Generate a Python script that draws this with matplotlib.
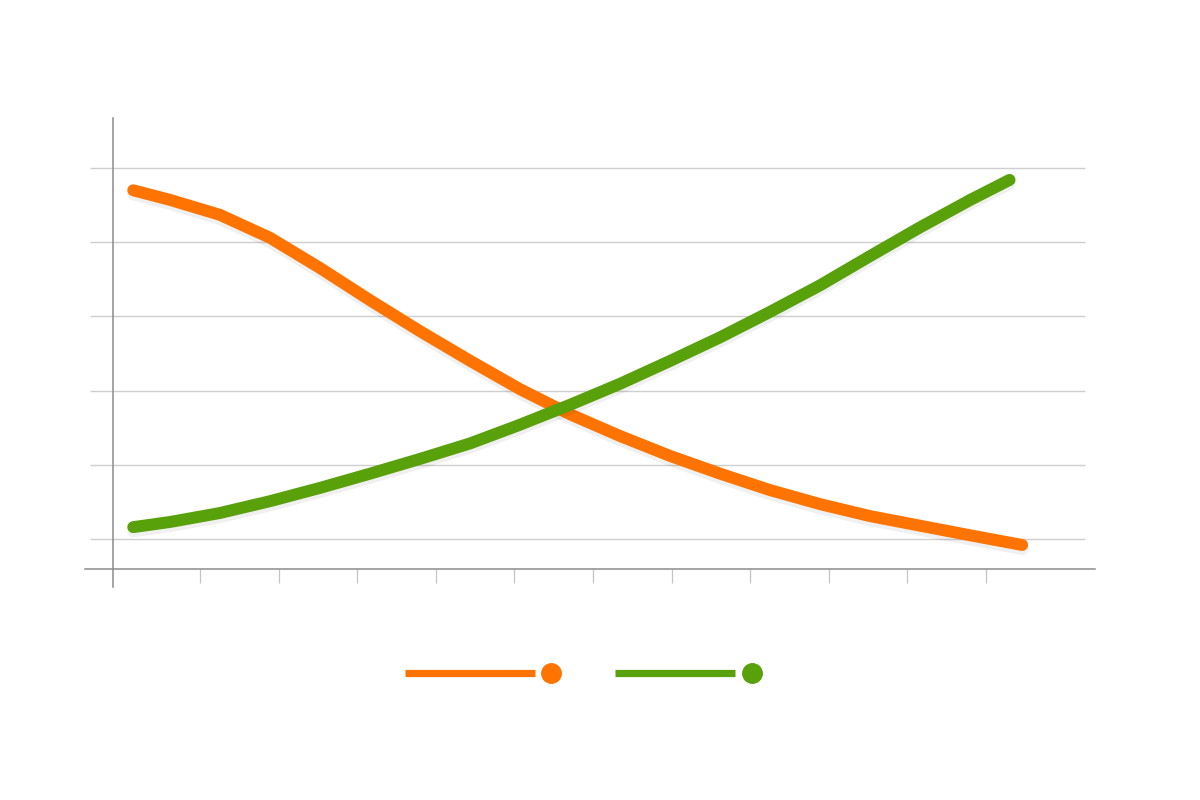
import matplotlib
matplotlib.use("Agg")
import matplotlib.pyplot as plt
import matplotlib.patheffects as pe
from matplotlib.lines import Line2D
from matplotlib.legend_handler import HandlerBase

# values (x in tick units, y in gridline units)
orange_x = [0.15, 0.62, 1.25, 1.89, 2.53, 3.16, 3.80, 4.44, 5.07, 5.71,
            6.34, 6.98, 7.62, 8.25, 8.89, 9.52, 10.16, 10.80, 11.46]
orange_y = [4.70, 4.57, 4.37, 4.06, 3.65, 3.22, 2.80, 2.40, 2.02, 1.68,
            1.39, 1.12, 0.88, 0.66, 0.47, 0.31, 0.18, 0.05, -0.08]
green_x = [0.15, 0.62, 1.25, 1.89, 2.53, 3.16, 3.80, 4.44, 5.07, 5.71,
           6.34, 6.98, 7.62, 8.25, 8.89, 9.52, 10.16, 10.80, 11.30]
green_y = [0.16, 0.23, 0.35, 0.51, 0.69, 0.88, 1.08, 1.29, 1.54, 1.81,
           2.09, 2.40, 2.72, 3.06, 3.42, 3.81, 4.20, 4.57, 4.84]
x_ticks = list(range(1, 12))
grid_levels = list(range(0, 6))

ORANGE = "#ff7300"
GREEN = "#58a10a"


class LineDotHandler(HandlerBase):
    """legend key: a bar with a dot after it"""
    def __init__(self, line_frac, dot_frac):
        super().__init__()
        self.line_frac = line_frac
        self.dot_frac = dot_frac

    def create_artists(self, legend, orig, xdescent, ydescent, width, height,
                       fontsize, trans):
        y = height / 2 - ydescent
        c = orig.get_color()
        x0 = -xdescent
        ln = Line2D([x0, x0 + width * self.line_frac], [y, y], color=c,
                    lw=5.2, solid_capstyle="butt", transform=trans)
        dot = Line2D([x0 + width * self.dot_frac], [y], marker="o", ms=14,
                     color=c, lw=0, transform=trans)
        return [ln, dot]


fig = plt.figure(figsize=(12, 8), dpi=100)
ax = fig.add_axes([0.0942, 0.28875, 0.8183, 0.56375])
ax.set_xlim(-0.107, 12.387)
ax.set_ylim(-0.404, 5.674)

for s in ax.spines.values():
    s.set_visible(False)

# grid lines, sticking out a bit left of the axis
ax.hlines(grid_levels, -0.0234, 0.9898, transform=ax.get_yaxis_transform(),
          color="#cfcfcf", lw=1.0, clip_on=False, zorder=1)

# axis lines drawn by hand so they overshoot like the original
ax.add_line(Line2D([-0.0285, 1.0], [0, 0], transform=ax.transAxes,
                   color="#8c8c8c", lw=1.1, clip_on=False))
ax.add_line(Line2D([0, 0], [-0.0399, 1.0], transform=ax.transAxes,
                   color="#8c8c8c", lw=1.1, clip_on=False))

ax.set_xticks(x_ticks)
ax.set_xticklabels([])
ax.set_yticks([])
ax.tick_params(axis="x", direction="out", length=10, width=0.9,
               color="#c4c4c4")

shadow = [pe.SimpleLineShadow(offset=(0, -3), shadow_color="k", alpha=0.06),
          pe.Normal()]
l1, = ax.plot(orange_x, orange_y, color=ORANGE, lw=8.6,
              solid_capstyle="round", solid_joinstyle="round",
              path_effects=shadow, zorder=3, clip_on=False)
l2, = ax.plot(green_x, green_y, color=GREEN, lw=8.6,
              solid_capstyle="round", solid_joinstyle="round",
              path_effects=shadow, zorder=3, clip_on=False)

fig.legend([l1, l2], ["", ""],
           handler_map={l1: LineDotHandler(0.89, 1.0),
                        l2: LineDotHandler(0.82, 0.94)},
           loc="center", bbox_to_anchor=(583 / 1200, 1 - 674 / 800),
           ncol=2, frameon=False, handlelength=10.5, handletextpad=0,
           columnspacing=4.6, borderpad=0, borderaxespad=0)

fig.savefig("out.png", dpi=100, facecolor="white")
